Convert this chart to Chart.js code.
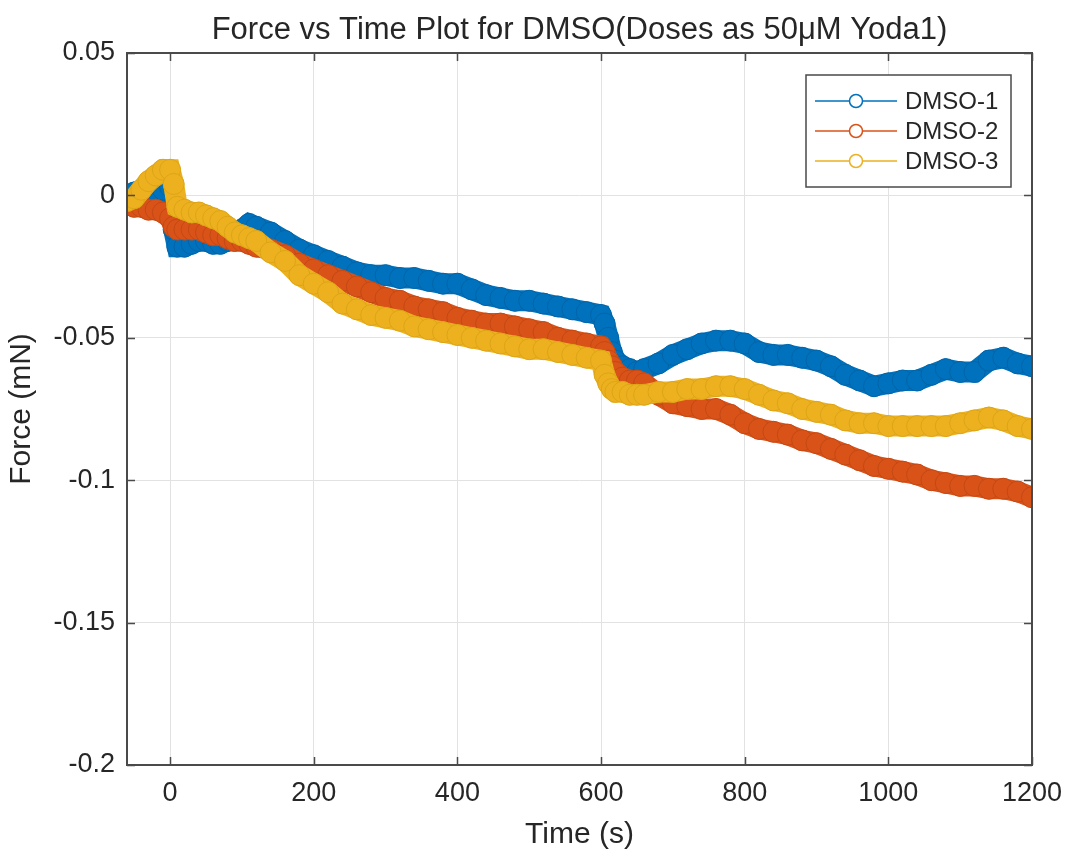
<!DOCTYPE html>
<html>
<head>
<meta charset="utf-8">
<title>Force vs Time Plot for DMSO</title>
<script src="https://cdn.jsdelivr.net/npm/chart.js@4.4.1/dist/chart.umd.min.js"></script>
<style>
  html, body { margin: 0; padding: 0; background: #fff; }
  #chart { display: block; }
</style>
</head>
<body>
<canvas id="chart" width="1067" height="857"></canvas>
<script>
// time in seconds, shared by all three traces
const timeS = [
    -60, -50, -40, -30, -20, -10, 0,
    5, 10, 20, 30, 40, 50, 60, 70, 80, 90, 100, 110, 120,
    140, 160, 180, 200, 220, 240, 260, 280, 300, 320, 340, 360, 380, 400, 420, 440, 460, 480, 500, 520, 540, 560, 580, 600,
    605, 610, 615, 620, 630, 640, 650, 660,
    680, 700, 720, 740, 760, 780, 800, 820, 840, 860, 880, 900, 920, 940, 960, 980, 1000, 1020, 1040, 1060, 1080, 1100, 1120, 1140, 1160, 1180, 1200
];

// force in mN
const dmso1 = [
    0.000, 0.001, 0.000, -0.001, 0.000, 0.002, 0.003,
    -0.012, -0.018, -0.018, -0.017, -0.016, -0.016, -0.017, -0.017, -0.016, -0.014, -0.012, -0.010, -0.011,
    -0.013, -0.016, -0.019, -0.021, -0.023, -0.025, -0.027, -0.028, -0.028, -0.029, -0.029, -0.030, -0.031, -0.031, -0.033, -0.035, -0.036, -0.037, -0.037, -0.038, -0.039, -0.040, -0.041, -0.042,
    -0.045, -0.050, -0.055, -0.058, -0.060, -0.061, -0.062, -0.061,
    -0.059, -0.056, -0.054, -0.052, -0.051, -0.051, -0.052, -0.055, -0.056, -0.056, -0.057, -0.058, -0.060, -0.063, -0.065, -0.067, -0.066, -0.065, -0.065, -0.063, -0.061, -0.062, -0.062, -0.058, -0.057, -0.059, -0.060
];
const dmso2 = [
    -0.003, -0.004, -0.004, -0.005, -0.005, -0.006, -0.008,
    -0.011, -0.012, -0.012, -0.012, -0.012, -0.013, -0.014, -0.014, -0.015, -0.016, -0.016, -0.017, -0.018,
    -0.019, -0.021, -0.024, -0.026, -0.028, -0.030, -0.032, -0.034, -0.036, -0.037, -0.039, -0.040, -0.041, -0.043, -0.044, -0.045, -0.045, -0.046, -0.047, -0.048, -0.050, -0.051, -0.052, -0.053,
    -0.055, -0.058, -0.060, -0.062, -0.064, -0.065, -0.065, -0.066,
    -0.070, -0.073, -0.074, -0.075, -0.075, -0.077, -0.080, -0.082, -0.083, -0.084, -0.086, -0.087, -0.089, -0.091, -0.093, -0.095, -0.096, -0.097, -0.098, -0.100, -0.101, -0.102, -0.102, -0.103, -0.103, -0.104, -0.106
];
const dmso3 = [
    -0.002, -0.001, 0.002, 0.005, 0.007, 0.009, 0.009,
    0.004, -0.004, -0.005, -0.006, -0.006, -0.007, -0.008, -0.009, -0.011, -0.013, -0.014, -0.015, -0.016,
    -0.020, -0.023, -0.028, -0.031, -0.034, -0.038, -0.040, -0.042, -0.043, -0.044, -0.046, -0.047, -0.048, -0.049, -0.050, -0.051, -0.052, -0.053, -0.054, -0.054, -0.055, -0.056, -0.057, -0.058,
    -0.063, -0.066, -0.068, -0.069, -0.069, -0.070, -0.070, -0.070,
    -0.069, -0.069, -0.068, -0.068, -0.067, -0.067, -0.068, -0.070, -0.072, -0.073, -0.075, -0.076, -0.077, -0.079, -0.080, -0.080, -0.081, -0.081, -0.081, -0.081, -0.081, -0.080, -0.079, -0.078, -0.079, -0.081, -0.082
];

const seriesNames = ['DMSO-1', 'DMSO-2', 'DMSO-3'];
const xTicks = [0, 200, 400, 600, 800, 1000, 1200];
const yTicks = [0.05, 0, -0.05, -0.1, -0.15, -0.2];
const titleText = 'Force vs Time Plot for DMSO(Doses as 50\u03BCM Yoda1)';

const colors = ['#0072BD', '#D95319', '#EDB120'];
const edgeColors = ['#0064a8', '#c44814', '#dca516'];
const axisColor = '#4a4a4a';
const textColor = '#262626';
const fontFamily = "'Liberation Sans', Arial, Helvetica, sans-serif";

function toPoints(ys) {
    return timeS.map((t, i) => ({ x: t, y: ys[i] }));
}

function makeDataset(i, ys) {
    return {
        label: seriesNames[i],
        data: toPoints(ys),
        borderColor: colors[i],
        backgroundColor: colors[i],
        borderWidth: 21,
        pointRadius: 10.5,
        pointBorderWidth: 1,
        pointBackgroundColor: colors[i],
        pointBorderColor: edgeColors[i],
        tension: 0,
        order: 3 - i // later series drawn on top, like MATLAB
    };
}

// title over the axes, box, inward ticks and the in-axes legend
const framePlugin = {
    id: 'frame',
    afterDraw(chart) {
        const { ctx, chartArea: a, scales } = chart;
        const x = scales.x, y = scales.y;
        const tl = 8;
        ctx.save();

        ctx.fillStyle = textColor;
        ctx.font = '31px ' + fontFamily;
        ctx.textAlign = 'center';
        ctx.textBaseline = 'middle';
        ctx.fillText(titleText, (a.left + a.right) / 2, 30);

        ctx.strokeStyle = axisColor;
        ctx.lineWidth = 2;
        ctx.strokeRect(a.left, a.top, a.right - a.left, a.bottom - a.top);
        ctx.lineWidth = 1.5;
        ctx.beginPath();
        xTicks.forEach(v => {
            const px = Math.round(x.getPixelForValue(v)) + 0.5;
            ctx.moveTo(px, a.bottom); ctx.lineTo(px, a.bottom - tl);
            ctx.moveTo(px, a.top); ctx.lineTo(px, a.top + tl);
        });
        yTicks.forEach(v => {
            const py = Math.round(y.getPixelForValue(v)) + 0.5;
            ctx.moveTo(a.left, py); ctx.lineTo(a.left + tl, py);
            ctx.moveTo(a.right, py); ctx.lineTo(a.right - tl, py);
        });
        ctx.stroke();

        // legend
        const boxW = 205, boxH = 112;
        const bx = a.right - 21 - boxW, by = a.top + 22;
        ctx.fillStyle = '#ffffff';
        ctx.fillRect(bx, by, boxW, boxH);
        ctx.strokeStyle = axisColor;
        ctx.lineWidth = 1.5;
        ctx.strokeRect(bx, by, boxW, boxH);
        ctx.font = '24px ' + fontFamily;
        ctx.textBaseline = 'middle';
        ctx.textAlign = 'left';
        chart.data.datasets.forEach((ds, i) => {
            const ry = by + 26 + i * 30;
            ctx.strokeStyle = colors[i];
            ctx.lineWidth = 1.5;
            ctx.beginPath();
            ctx.moveTo(bx + 9, ry); ctx.lineTo(bx + 91, ry);
            ctx.stroke();
            ctx.beginPath();
            ctx.arc(bx + 50, ry, 6.5, 0, Math.PI * 2);
            ctx.fillStyle = '#ffffff';
            ctx.fill();
            ctx.stroke();
            ctx.fillStyle = textColor;
            ctx.fillText(ds.label, bx + 99, ry + 1);
        });
        ctx.restore();
    }
};

const ctx = document.getElementById('chart').getContext('2d');
const chart = new Chart(ctx, {
    type: 'line',
    data: {
        datasets: [makeDataset(0, dmso1), makeDataset(1, dmso2), makeDataset(2, dmso3)]
    },
    options: {
        responsive: false,
        animation: false,
        devicePixelRatio: 1,
        layout: { padding: { left: 0, right: 35, top: 53, bottom: 0 } },
        plugins: {
            legend: { display: false },
            tooltip: { enabled: false },
            title: { display: false }
        },
        scales: {
            x: {
                type: 'linear',
                min: -60,
                max: 1200,
                afterBuildTicks: s => { s.ticks = xTicks.map(v => ({ value: v })); },
                afterFit: s => { s.height = 92; s.paddingLeft = 0; s.paddingRight = 0; },
                ticks: {
                    color: textColor,
                    font: { family: fontFamily, size: 27 },
                    padding: 12,
                    maxRotation: 0,
                    callback: v => String(v)
                },
                grid: { color: '#e2e2e2', lineWidth: 1, drawTicks: false },
                border: { display: false },
                title: {
                    display: true,
                    text: 'Time (s)',
                    color: textColor,
                    font: { family: fontFamily, size: 30 },
                    padding: { top: 4, bottom: 4 }
                }
            },
            y: {
                min: -0.2,
                max: 0.05,
                afterBuildTicks: s => { s.ticks = yTicks.map(v => ({ value: v })); },
                afterFit: s => { s.width = 127; s.paddingTop = 0; s.paddingBottom = 0; },
                ticks: {
                    color: textColor,
                    font: { family: fontFamily, size: 27 },
                    padding: 12,
                    callback: v => String(Math.round(v * 100) / 100)
                },
                grid: { color: '#e2e2e2', lineWidth: 1, drawTicks: false },
                border: { display: false },
                title: {
                    display: true,
                    text: 'Force (mN)',
                    color: textColor,
                    font: { family: fontFamily, size: 30 },
                    padding: { top: 4, bottom: 12 }
                }
            }
        }
    },
    plugins: [framePlugin]
});
</script>
</body>
</html>
